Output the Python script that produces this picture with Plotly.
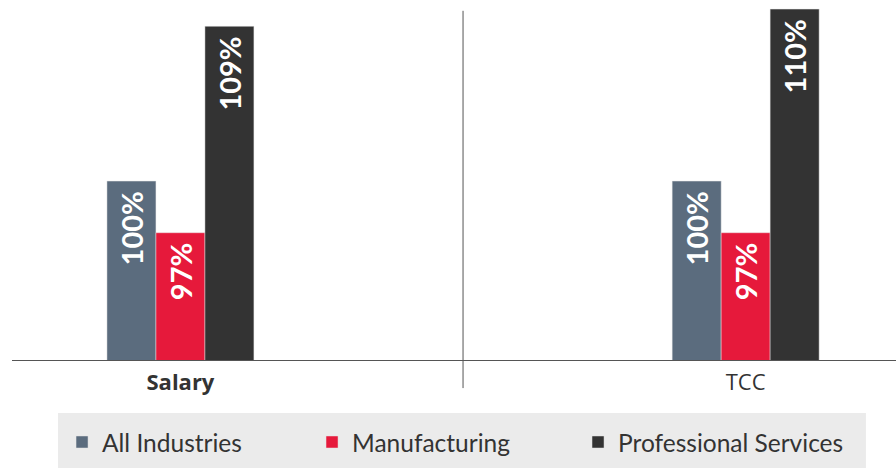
import plotly.graph_objects as go

categories = ["Salary", "TCC"]
tick_labels = ["<b>Salary</b>", "TCC"]
series_names = ["All Industries", "Manufacturing", "Professional Services"]
all_industries = [100, 100]
manufacturing = [97, 97]
professional_services = [109, 110]
colors = ["#5b6c7e", "#e6193b", "#333333"]

FONT = "Lato, 'Open Sans', sans-serif"
TICKFONT = "'Open Sans', Lato, sans-serif"

legend_ids = ["legend", "legend2", "legend3"]
legend_x = [0.0566, 0.3394, 0.6403]

fig = go.Figure()
for name, vals, col, lid in zip(series_names, [all_industries, manufacturing, professional_services], colors, legend_ids):
    fig.add_trace(go.Bar(
        x=[0, 1], y=vals, name=name, legend=lid,
        marker=dict(color=col, line=dict(width=0.6, color="rgba(230,230,230,0.8)")),
        text=[f"{v}%" for v in vals],
        texttemplate="%{text}\u00a0",
        textposition="inside", insidetextanchor="end", textangle=-90,
        constraintext="none", cliponaxis=False,
        textfont=dict(color="white", size=29, family=FONT, weight="bold"),
    ))

legend_common = dict(
    orientation="h", xanchor="left", y=-0.228, yanchor="middle",
    bgcolor="rgba(0,0,0,0)", font=dict(size=24.5, color="#333333", family=FONT),
)

fig.update_layout(
    width=896, height=469,
    margin=dict(l=12, r=0, t=0, b=109),
    paper_bgcolor="white", plot_bgcolor="white",
    barmode="group", bargap=0.74, bargroupgap=0,
    font=dict(family=FONT, color="#333333"),
    showlegend=True,
    legend=dict(x=legend_x[0], **legend_common),
    legend2=dict(x=legend_x[1], **legend_common),
    legend3=dict(x=legend_x[2], **legend_common),
    xaxis=dict(
        tickmode="array", tickvals=[0, 1], ticktext=tick_labels,
        range=[-0.298, 1.266], showgrid=False, zeroline=False,
        showline=True, linecolor="#555555", linewidth=1,
        ticks="outside", ticklen=3, tickcolor="rgba(0,0,0,0)",
        tickfont=dict(size=22, color="#333333", family=TICKFONT),
    ),
    yaxis=dict(range=[89.6, 110.53], visible=False, showgrid=False, zeroline=False),
    shapes=[
        dict(type="rect", xref="paper", yref="paper", x0=0.052, x1=0.966, y0=-0.3, y1=-0.147,
             fillcolor="#ebebeb", line=dict(width=0), layer="below"),
        dict(type="line", xref="x", yref="paper", x0=0.5, x1=0.5, y0=-0.078, y1=0.97,
             line=dict(color="#555555", width=1)),
    ],
)

fig.write_html("out.html")
